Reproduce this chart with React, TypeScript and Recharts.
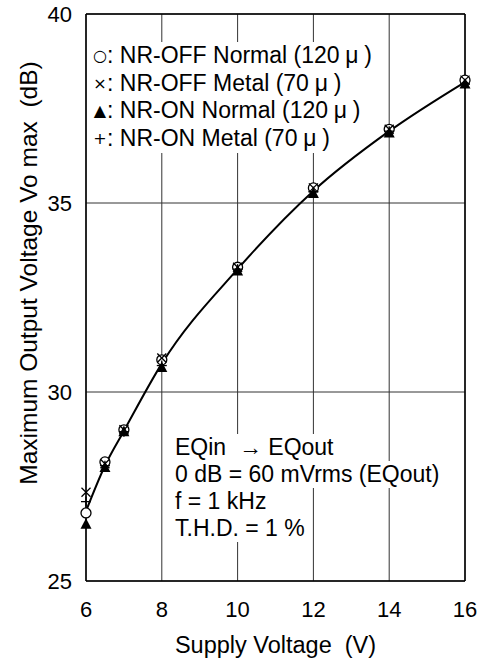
import React from 'react';
import { ComposedChart, Line, XAxis, YAxis, CartesianGrid, ReferenceLine } from 'recharts';

const volts = [6, 6.5, 7, 8, 10, 12, 14, 16];
const nrOffNormal = [26.8, 28.15, 29.0, 30.85, 33.3, 35.4, 36.95, 38.25];
const nrOffMetal = [27.35, 28.1, 29.0, 30.9, 33.3, 35.4, 36.95, 38.25];
const nrOnNormal = [26.5, 28.0, 28.95, 30.65, 33.2, 35.25, 36.85, 38.15];
const nrOnMetal = [27.1, 28.05, 28.95, 30.7, 33.25, 35.3, 36.9, 38.15];
const curve = [26.85, 28.05, 28.97, 30.75, 33.25, 35.32, 36.9, 38.2];

const xTicks = [6, 8, 10, 12, 14, 16];
const yTicks = [25, 30, 35, 40];

const legendRows = [
  { mark: '\u25CB', text: 'NR-OFF Normal (120\u2005\u03BC\u2005)' },
  { mark: '\u00D7', text: 'NR-OFF Metal (70\u2005\u03BC\u2005)' },
  { mark: '\u25B2', text: 'NR-ON Normal (120\u2005\u03BC\u2005)' },
  { mark: '+', text: 'NR-ON Metal (70\u2005\u03BC\u2005)' },
];
const noteRows = ['EQin \u00A0\u2192 EQout', '0 dB = 60 mVrms (EQout)', 'f = 1 kHz', 'T.H.D. = 1 %'];

const data = volts.map((v, i) => ({
  v,
  offN: nrOffNormal[i],
  offM: nrOffMetal[i],
  onN: nrOnNormal[i],
  onM: nrOnMetal[i],
  curve: curve[i],
}));

const FONT = '"Liberation Sans", Arial, sans-serif';

const CircleDot = (p: any) => (
  <circle key={p.key} cx={p.cx} cy={p.cy} r={5} fill="#fff" stroke="#000" strokeWidth={1.3} />
);
const CrossDot = (p: any) => (
  <g key={p.key} stroke="#000" strokeWidth={1.3}>
    <line x1={p.cx - 4.5} y1={p.cy - 4.5} x2={p.cx + 4.5} y2={p.cy + 4.5} />
    <line x1={p.cx - 4.5} y1={p.cy + 4.5} x2={p.cx + 4.5} y2={p.cy - 4.5} />
  </g>
);
const TriDot = (p: any) => (
  <polygon
    key={p.key}
    points={`${p.cx},${p.cy - 6} ${p.cx - 5.5},${p.cy + 4.5} ${p.cx + 5.5},${p.cy + 4.5}`}
    fill="#000"
  />
);
const PlusDot = (p: any) => (
  <g key={p.key} stroke="#000" strokeWidth={1.3}>
    <line x1={p.cx - 5} y1={p.cy} x2={p.cx + 5} y2={p.cy} />
    <line x1={p.cx} y1={p.cy - 5} x2={p.cx} y2={p.cy + 5} />
  </g>
);

const XLabel = (props: any) => {
  const { x, width } = props.viewBox;
  return (
    <text x={x + width / 2} y={653} textAnchor="middle" fontSize={23.5} fontFamily={FONT} fill="#000">
      Supply Voltage {'\u00A0'}(V)
    </text>
  );
};

const YLabel = () => (
  <text
    x={0}
    y={0}
    transform="translate(37, 273) rotate(-90)"
    textAnchor="middle"
    fontSize={24.5}
    fontFamily={FONT}
    fill="#000"
  >
    Maximum Output Voltage Vo max {'\u00A0'}(dB)
  </text>
);

const App: React.FC = () => {
  return (
    <div style={{ position: 'absolute', left: 0, top: 0, width: 478, height: 663, background: '#fff', fontFamily: FONT }}>
      <ComposedChart width={478} height={663} data={data} margin={{ top: 14, right: 13, bottom: 0, left: 0 }}>
        <CartesianGrid stroke="#333" strokeWidth={1} />
        <XAxis
          type="number"
          dataKey="v"
          domain={[6, 16]}
          ticks={xTicks}
          height={82}
          tickSize={0}
          tickMargin={20}
          axisLine={{ stroke: '#000', strokeWidth: 1.5 }}
          tick={{ fill: '#000', fontSize: 22, fontFamily: FONT }}
          label={<XLabel />}
        />
        <YAxis
          type="number"
          domain={[25, 40]}
          ticks={yTicks}
          width={86}
          tickSize={0}
          tickMargin={14}
          axisLine={{ stroke: '#000', strokeWidth: 1.5 }}
          tick={{ fill: '#000', fontSize: 22, fontFamily: FONT }}
          label={<YLabel />}
        />
        <ReferenceLine x={16} stroke="#000" strokeWidth={1.5} />
        <ReferenceLine y={40} stroke="#000" strokeWidth={1.5} />
        <Line dataKey="offN" stroke="none" dot={CircleDot} activeDot={false} isAnimationActive={false} />
        <Line dataKey="offM" stroke="none" dot={CrossDot} activeDot={false} isAnimationActive={false} />
        <Line dataKey="onM" stroke="none" dot={PlusDot} activeDot={false} isAnimationActive={false} />
        <Line dataKey="onN" stroke="none" dot={TriDot} activeDot={false} isAnimationActive={false} />
        <Line
          dataKey="curve"
          type="monotone"
          stroke="#000"
          strokeWidth={2}
          dot={false}
          activeDot={false}
          isAnimationActive={false}
        />
      </ComposedChart>
      <div style={{ position: 'absolute', left: 88, top: 42, fontSize: 23, lineHeight: '26.7px' }}>
        {legendRows.map((r) => (
          <div key={r.text} style={{ background: '#fff', width: 'fit-content', padding: '0 6px 0 5px', whiteSpace: 'nowrap' }}>
            <span
              style={{
                fontFamily: '"DejaVu Sans", sans-serif',
                fontSize: 16,
                display: 'inline-block',
                width: 14,
                textAlign: 'center',
                verticalAlign: 2,
              }}
            >
              {r.mark}
            </span>
            : {r.text}
          </div>
        ))}
      </div>
      <div style={{ position: 'absolute', left: 172, top: 434, fontSize: 23, lineHeight: '27px' }}>
        {noteRows.map((t) => (
          <div key={t} style={{ background: '#fff', width: 'fit-content', padding: '0 4px 0 3px', whiteSpace: 'nowrap' }}>
            {t}
          </div>
        ))}
      </div>
    </div>
  );
};

export default App;
